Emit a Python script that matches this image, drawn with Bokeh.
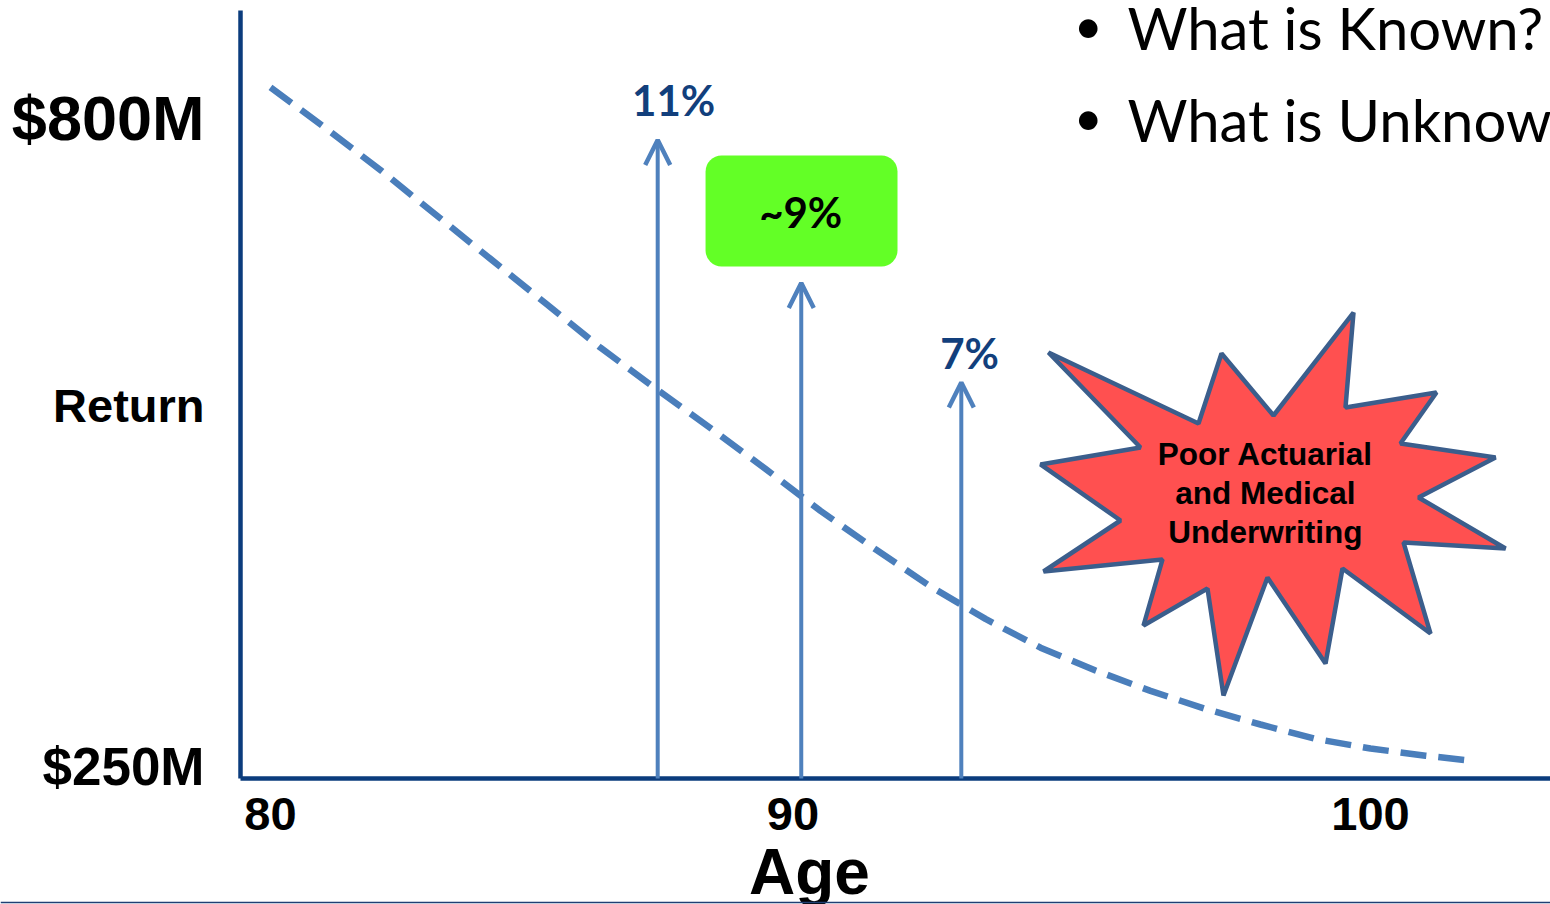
from bokeh.plotting import figure
from bokeh.models import (Range1d, FixedTicker, Arrow, OpenHead,
                          ColumnDataSource, Span)
from bokeh.core.properties import value
from bokeh.embed import file_html
from bokeh.resources import INLINE

# ---------------- data ----------------
ages = [80, 81, 82, 83, 84, 85, 86, 87, 88, 89, 90, 91, 92, 93, 94, 95, 96,
        97, 98, 99, 100, 101, 101.8]
returns_musd = [826, 792, 757, 720, 683, 646, 609, 575, 542, 508, 473, 441,
                410, 383, 359, 340, 323, 308, 295, 283, 275, 269, 265]

arrow_ages = [87.04, 89.65, 92.56]
arrow_tops = [782, 663, 580]
arrow_labels = ["11%", "~9%", "7%"]

x_tick_ages = [80, 89.5, 100]
x_tick_labels = ["80", "90", "100"]

y_labels = ["$800M", "Return", "$250M"]
y_label_values = [800, 561, 260]

bullets = ["What is Known?", "What is Unknown?"]
star_lines = ["Poor Actuarial", "and Medical", "Underwriting"]

# starburst outline (age, $M)
star_x = [94.145, 96.873, 97.291, 98.236, 99.691, 99.545, 101.2, 100.545,
          102.273, 100.873, 102.455, 100.6, 101.091, 99.491, 99.182, 98.127,
          97.327, 97.036, 95.873, 96.218, 94.055, 95.455, 94.0, 95.818]
star_y = [605.0, 545.8, 604.2, 552.5, 638.3, 559.2, 571.7, 529.2, 517.5,
          484.2, 441.7, 446.7, 370.8, 425.0, 345.8, 417.5, 319.2, 408.3,
          377.5, 432.5, 422.5, 465.0, 511.7, 525.8]

NAVY = "#0B3C7D"
STEEL = "#4A7EBB"
ARROW = "#4F81BD"
PCT = "#123F7C"

AGE_MIN, AGE_MAX = 79.4545, 103.2727
RET_MIN, RET_MAX = 250, 890

p = figure(width=1550, height=904, output_backend="svg", toolbar_location=None,
           x_range=Range1d(75.0909, AGE_MAX), y_range=Range1d(145, 898.333),
           min_border=0, outline_line_color=None,
           background_fill_color="white", border_fill_color="white")
p.grid.visible = False

# axes (placed inside the frame at fixed locations)
p.xaxis.fixed_location = RET_MIN
p.xaxis.bounds = (AGE_MIN, AGE_MAX)
p.xaxis.ticker = FixedTicker(ticks=x_tick_ages)
p.xaxis.major_label_overrides = dict(zip(x_tick_ages, x_tick_labels))
p.xaxis.axis_line_color = NAVY
p.xaxis.axis_line_width = 4.5
p.xaxis.major_tick_line_color = None
p.xaxis.minor_tick_line_color = None
p.xaxis.major_label_text_font = "Liberation Sans"
p.xaxis.major_label_text_font_style = "bold"
p.xaxis.major_label_text_font_size = "47px"
p.xaxis.major_label_text_color = "black"
p.xaxis.major_label_standoff = 14

p.yaxis.fixed_location = AGE_MIN
p.yaxis.bounds = (RET_MIN, RET_MAX)
p.yaxis.ticker = FixedTicker(ticks=[])
p.yaxis.major_label_text_font_size = "0px"
p.yaxis.axis_line_color = NAVY
p.yaxis.axis_line_width = 4.5
p.yaxis.major_tick_line_color = None
p.yaxis.minor_tick_line_color = None

# y labels
y_sizes = ["63px", "47px", "53px"]
for txt, yv, fs in zip(y_labels, y_label_values, y_sizes):
    p.text(x=[78.8], y=[yv], text=[txt], text_align="right",
           text_baseline="middle", text_font=value("Liberation Sans"),
           text_font_style="bold", text_font_size=fs, text_color="black")

p.text(x=[89.8], y=[172.5], text=["Age"], text_align="center",
       text_baseline="middle", text_font=value("Liberation Sans"),
       text_font_style="bold", text_font_size="64px", text_color="black")

# footer rule
p.add_layout(Span(location=146.67, dimension="width", line_color="#1F3F73",
                  line_width=1.5))

# bullets
for txt, yv in zip(bullets, [875.8, 799.2]):
    p.text(x=[94.87], y=[yv + 2], text=["\u2022"], text_align="center",
           text_baseline="middle", text_font=value("Lato"),
           text_font_size="50px", text_color="black")
    p.text(x=[95.58], y=[yv], text=[txt], text_align="left",
           text_baseline="middle", text_font=value("Lato"),
           text_font_size="58px", text_color="black")

# curve
p.line(ages, returns_musd, line_color=STEEL, line_width=6.5, line_dash="26 12")

# green box
p.quad(left=[87.91], right=[91.40], bottom=[676.7], top=[769.2],
       fill_color="#63FF26", line_color=None, border_radius=16)

# arrows
src = ColumnDataSource(dict(x=arrow_ages, y0=[RET_MIN] * 3, y1=arrow_tops))
p.add_layout(Arrow(end=OpenHead(size=25, line_color=ARROW, line_width=4.5),
                   x_start="x", y_start="y0", x_end="x", y_end="y1",
                   source=src, line_color=ARROW, line_width=4))

# percent labels
p.text(x=[87.33, 92.71], y=[815.0, 604.2],
       text=[arrow_labels[0], arrow_labels[2]],
       text_align="center", text_baseline="middle",
       text_font=value("Lato"), text_font_style="bold",
       text_font_size="42px", text_color=PCT)
p.text(x=[89.64], y=[721.7], text=[arrow_labels[1]], text_align="center",
       text_baseline="middle", text_font=value("Lato"),
       text_font_style="bold", text_font_size="42px", text_color="black")

# starburst
p.patch(star_x, star_y, fill_color="#FF5050", line_color="#3B5E8C",
        line_width=4.5)
p.text(x=[98.09] * 3, y=[520.8, 488.3, 455.8], text=star_lines,
       text_align="center", text_baseline="middle",
       text_font=value("Liberation Sans"), text_font_style="bold",
       text_font_size="31.5px", text_color="black")

open("out.html", "w").write(file_html(p, INLINE))
